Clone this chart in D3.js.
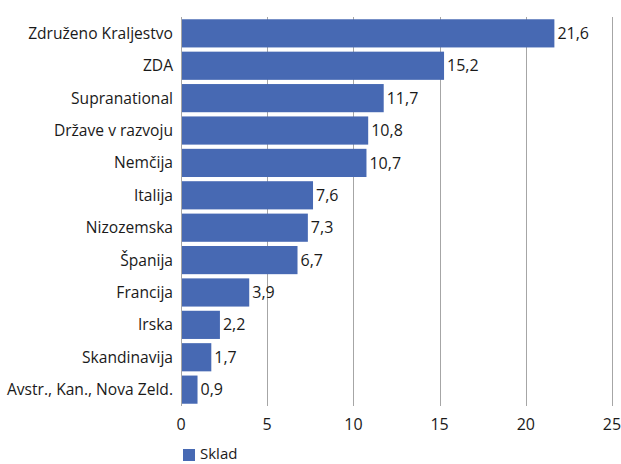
<!DOCTYPE html>
<html lang="sl">
<head>
<meta charset="UTF-8">
<style>
    body { margin: 0; background: #fff; }
    svg text { font-family: "Open Sans", "Noto Sans", sans-serif; fill: #1a1a1a; }
    .grid line { stroke: #a6a6a6; stroke-width: 1; }
    .bar { fill: #4769b3; }
</style>
</head>
<body>
<script src="https://d3js.org/d3.v7.min.js"></script>
<script>
    var categories = ["Združeno Kraljestvo", "ZDA", "Supranational", "Države v razvoju", "Nemčija",
        "Italija", "Nizozemska", "Španija", "Francija", "Irska", "Skandinavija", "Avstr., Kan., Nova Zeld."];
    var values = [21.6, 15.2, 11.7, 10.8, 10.7, 7.6, 7.3, 6.7, 3.9, 2.2, 1.7, 0.9];
    var xTicks = [0, 5, 10, 15, 20, 25];
    var seriesName = "Sklad";

    var W = 621, H = 464;
    var margin = {top: 17, right: 9, bottom: 58, left: 181};
    var width = W - margin.left - margin.right,
        height = H - margin.top - margin.bottom;

    var x = d3.scaleLinear().domain([0, 25]).range([0, width]);
    var y = d3.scaleBand().domain(categories).range([0, height]).paddingInner(0.13).paddingOuter(0.07);

    var svg = d3.select("body").append("svg")
        .attr("width", W).attr("height", H)
        .append("g")
        .attr("transform", "translate(" + margin.left + "," + margin.top + ")");

    // vertical gridlines
    svg.append("g").attr("class", "grid")
        .selectAll("line").data(xTicks).enter().append("line")
        .attr("x1", function(d) { return Math.round(x(d)) + 0.5; })
        .attr("x2", function(d) { return Math.round(x(d)) + 0.5; })
        .attr("y1", 0).attr("y2", height);

    svg.selectAll(".bar").data(values).enter().append("rect")
        .attr("class", "bar")
        .attr("x", x(0) + 1)
        .attr("y", function(d, i) { return y(categories[i]); })
        .attr("width", function(d) { return x(d) - x(0); })
        .attr("height", y.bandwidth());

    svg.selectAll(".val").data(values).enter().append("text")
        .attr("class", "val")
        .attr("x", function(d) { return x(d) + 4; })
        .attr("y", function(d, i) { return y(categories[i]) + y.bandwidth() / 2; })
        .attr("dy", "0.35em")
        .style("font-size", "16px")
        .text(function(d) { return String(d).replace(".", ","); });

    // category labels
    svg.selectAll(".cat").data(categories).enter().append("text")
        .attr("class", "cat")
        .attr("x", -8)
        .attr("y", function(d) { return y(d) + y.bandwidth() / 2; })
        .attr("dy", "0.35em")
        .attr("text-anchor", "end")
        .style("font-size", "15.6px")
        .text(function(d) { return d; });

    // x tick labels
    svg.selectAll(".xt").data(xTicks).enter().append("text")
        .attr("class", "xt")
        .attr("x", function(d) { return x(d); })
        .attr("y", height + 24)
        .attr("text-anchor", "middle")
        .style("font-size", "16px")
        .text(function(d) { return d; });

    // legend
    var lg = svg.append("g").attr("transform", "translate(2," + (height + 43) + ")");
    lg.append("rect").attr("class", "bar").attr("width", 12).attr("height", 12);
    lg.append("text").attr("x", 17).attr("y", 5).attr("dy", "0.35em")
        .style("font-size", "15px").text(seriesName);
</script>
</body>
</html>
